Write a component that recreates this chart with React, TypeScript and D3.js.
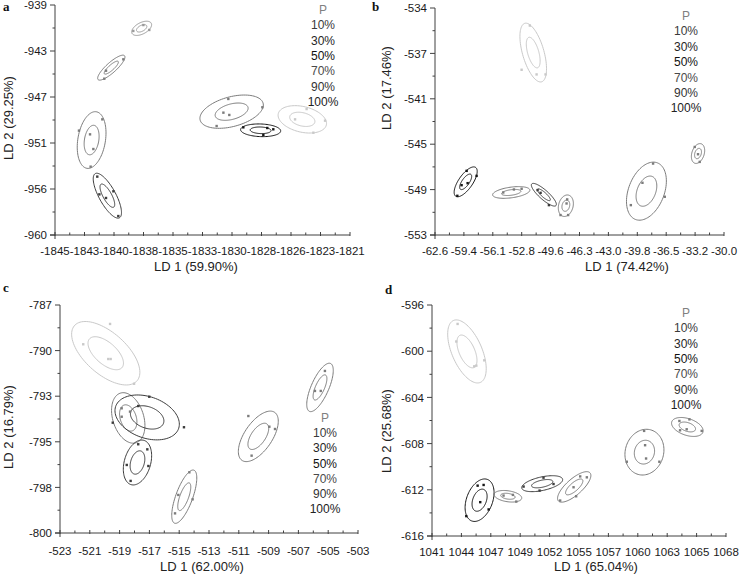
import React from 'react';
import * as d3 from 'd3';

// ---------- shared ----------
const legendLabels = ['P', '10%', '30%', '50%', '70%', '90%', '100%'];
const legendTones = ['#808080', '#3a3a3a', '#262626', '#111111', '#4a4a4a', '#333333', '#222222'];
const shadeColors: Record<string, string> = {
  light: '#c9c9c9',
  mid: '#9a9a9a',
  grey: '#7c7c7c',
  dark: '#3c3c3c',
  black: '#151515',
};

// ---------- panel a ----------
const aXDomain = [-1845, -1821];
const aYDomain = [-960, -939];
const aXLabels = ['-1845', '-1843', '-1840', '-1838', '-1835', '-1833', '-1830', '-1828', '-1826', '-1823', '-1821'];
const aYLabels = ['-960', '-956', '-951', '-947', '-943', '-939'];
const aGroups = [
  { cx: -1837.95, cy: -941.13, rx: 0.81, ry: 0.65, rho: 0.5 },
  { cx: -1840.42, cy: -944.72, rx: 1.11, ry: 1.14, rho: 0.85 },
  { cx: -1842.02, cy: -951.33, rx: 1.17, ry: 2.59, rho: 0.25 },
  { cx: -1840.74, cy: -956.41, rx: 1.15, ry: 2.05, rho: -0.75 },
  { cx: -1830.63, cy: -948.74, rx: 2.58, ry: 1.52, rho: 0.4 },
  { cx: -1828.27, cy: -950.44, rx: 1.63, ry: 0.58, rho: -0.1 },
  { cx: -1824.88, cy: -949.44, rx: 1.97, ry: 1.25, rho: -0.3 },
];
const aShades = ['mid', 'grey', 'grey', 'dark', 'grey', 'black', 'light'];
const aPoints: [number, number, number][] = [
  [0, -1838.63, -941.37], [0, -1837.81, -940.83], [0, -1837.33, -941.28],
  [1, -1839.44, -943.96], [1, -1840.99, -945.73], [1, -1840.85, -945.0],
  [2, -1843.05, -950.47], [2, -1842.15, -950.81], [2, -1841.88, -952.15], [2, -1842.1, -953.76], [2, -1841.15, -949.44],
  [3, -1841.56, -954.67], [3, -1840.25, -956.01], [3, -1840.85, -956.62], [3, -1841.39, -956.29], [3, -1839.85, -958.27],
  [4, -1830.9, -947.58], [4, -1828.13, -948.34], [4, -1831.3, -948.83], [4, -1830.82, -949.04], [4, -1831.85, -950.05],
  [5, -1829.68, -950.17], [5, -1828.05, -950.87], [5, -1827.24, -950.35], [5, -1827.73, -950.23],
  [6, -1825.47, -949.44], [6, -1823.03, -949.56], [6, -1823.98, -950.66], [6, -1824.53, -948.5],
];

// ---------- panel b ----------
const bXDomain = [-62.6, -30.0];
const bYDomain = [-553, -534];
const bXLabels = ['-62.6', '-59.4', '-56.1', '-52.8', '-49.6', '-46.3', '-43.0', '-39.8', '-36.5', '-33.2', '-30.0'];
const bYLabels = ['-553', '-549', '-545', '-541', '-537', '-534'];
const bGroups = [
  { cx: -51.52, cy: -537.73, rx: 1.5, ry: 2.46, rho: -0.55 },
  { cx: -59.14, cy: -548.55, rx: 1.3, ry: 1.25, rho: 0.7 },
  { cx: -54.0, cy: -549.44, rx: 2.1, ry: 0.49, rho: 0.4 },
  { cx: -50.32, cy: -549.63, rx: 1.41, ry: 0.95, rho: -0.85 },
  { cx: -47.84, cy: -550.55, rx: 0.85, ry: 0.9, rho: 0.2 },
  { cx: -38.75, cy: -549.33, rx: 2.25, ry: 2.43, rho: 0.35 },
  { cx: -32.93, cy: -546.18, rx: 0.75, ry: 0.83, rho: 0.3 },
];
const bShades = ['light', 'black', 'grey', 'dark', 'grey', 'grey', 'grey'];
const bPoints: [number, number, number][] = [
  [0, -51.9, -535.47], [0, -52.83, -539.17], [0, -51.14, -539.56], [0, -50.13, -539.56],
  [1, -59.03, -547.63], [1, -57.91, -548.05], [1, -58.92, -548.66], [1, -59.6, -548.83], [1, -60.08, -549.72],
  [2, -54.9, -549.44], [2, -53.7, -549.19], [2, -52.83, -549.13],
  [3, -51.03, -549.24], [3, -49.75, -550.5], [3, -50.69, -549.47],
  [4, -48.44, -551.33], [4, -47.58, -551.33], [4, -47.69, -550.02], [4, -47.76, -550.36],
  [5, -38.0, -547.02], [5, -39.2, -548.63], [5, -36.68, -549.8], [5, -40.51, -550.5],
  [6, -33.3, -545.63], [6, -32.93, -546.24], [6, -32.74, -546.88],
];

// ---------- panel c ----------
const cXDomain = [-523, -503];
const cYDomain = [-800, -787];
const cXLabels = ['-523', '-521', '-519', '-517', '-515', '-513', '-511', '-509', '-507', '-505', '-503'];
const cYLabels = ['-800', '-798', '-795', '-793', '-790', '-787'];
const cGroups = [
  { cx: -519.93, cy: -789.75, rx: 2.29, ry: 1.81, rho: -0.6 },
  { cx: -505.55, cy: -791.7, rx: 0.89, ry: 1.38, rho: 0.7 },
  { cx: -518.42, cy: -793.44, rx: 1.12, ry: 1.44, rho: -0.3 },
  { cx: -517.15, cy: -793.41, rx: 2.16, ry: 1.28, rho: -0.3 },
  { cx: -517.8, cy: -795.98, rx: 0.95, ry: 1.28, rho: 0.3 },
  { cx: -514.66, cy: -797.93, rx: 0.84, ry: 1.52, rho: 0.7 },
  { cx: -509.69, cy: -794.49, rx: 1.34, ry: 1.44, rho: 0.6 },
];
const cShades = ['light', 'grey', 'grey', 'dark', 'dark', 'grey', 'grey'];
const cPoints: [number, number, number][] = [
  [0, -519.64, -788.08], [0, -521.44, -789.24], [0, -519.76, -790.08], [0, -519.6, -790.08], [0, -518.03, -791.49],
  [1, -505.22, -790.76], [1, -505.89, -791.9], [1, -505.5, -791.9],
  [2, -518.86, -792.89], [2, -518.86, -793.37], [2, -518.3, -793.08],
  [3, -517.01, -792.23], [3, -517.75, -792.76], [3, -519.46, -793.71], [3, -514.68, -793.97],
  [4, -517.75, -794.94], [4, -517.14, -795.23], [4, -518.52, -796.12], [4, -517.07, -796.18], [4, -518.26, -797.03],
  [5, -514.32, -796.54], [5, -515.06, -797.83], [5, -514.1, -798.08], [5, -515.28, -798.88],
  [6, -510.36, -793.33], [6, -508.95, -793.94], [6, -508.57, -794.07], [6, -510.14, -795.59],
];

// ---------- panel d ----------
const dXDomain = [1041, 1068];
const dYDomain = [-616, -596];
const dXLabels = ['1041', '1044', '1047', '1049', '1052', '1055', '1057', '1060', '1063', '1065', '1068'];
const dYLabels = ['-616', '-612', '-608', '-604', '-600', '-596'];
const dGroups = [
  { cx: 1044.21, cy: -600.02, rx: 1.77, ry: 2.73, rho: -0.55 },
  { cx: 1045.37, cy: -612.9, rx: 1.33, ry: 1.84, rho: 0.35 },
  { cx: 1047.97, cy: -612.56, rx: 1.27, ry: 0.5, rho: -0.3 },
  { cx: 1051.12, cy: -611.47, rx: 1.88, ry: 0.69, rho: 0.5 },
  { cx: 1054.06, cy: -611.75, rx: 1.53, ry: 1.32, rho: 0.75 },
  { cx: 1060.51, cy: -608.74, rx: 1.79, ry: 1.98, rho: 0.1 },
  { cx: 1064.45, cy: -606.56, rx: 1.45, ry: 0.82, rho: -0.4 },
];
const dShades = ['light', 'black', 'grey', 'dark', 'grey', 'grey', 'grey'];
const dPoints: [number, number, number][] = [
  [0, 1043.35, -597.64], [0, 1043.23, -599.16], [0, 1044.88, -601.31], [0, 1045.07, -601.25], [0, 1045.8, -600.79],
  [1, 1045.19, -611.64], [1, 1045.74, -611.58], [1, 1045.43, -613.07], [1, 1044.15, -614.28], [1, 1046.2, -613.7],
  [2, 1047.57, -612.5], [2, 1048.43, -612.44], [2, 1048.74, -613.02],
  [3, 1051.24, -610.95], [3, 1052.16, -611.5], [3, 1050.88, -612.07], [3, 1049.41, -611.72],
  [4, 1054.61, -610.84], [4, 1055.22, -610.92], [4, 1054.0, -611.78], [4, 1054.24, -612.56], [4, 1052.77, -612.93],
  [5, 1060.48, -606.9], [5, 1060.57, -608.14], [5, 1060.66, -609.29], [5, 1058.89, -609.57], [5, 1061.88, -609.57],
  [6, 1063.72, -606.04], [6, 1064.64, -605.9], [6, 1064.39, -606.76], [6, 1063.78, -606.85], [6, 1065.77, -606.9],
];

// ---------- layout ----------
type Group = { cx: number; cy: number; rx: number; ry: number; rho: number };
type PanelSpec = {
  letter: string;
  xDomain: number[];
  yDomain: number[];
  xLabels: string[];
  yLabels: string[];
  groups: Group[];
  shades: string[];
  points: [number, number, number][];
  xTitle: string;
  yTitle: string;
  frame: { x0: number; x1: number; yTop: number; yBot: number };
  letterPos: [number, number];
  xTitlePos: [number, number];
  yTitlePos: [number, number];
  xLabelY: number;
  legend: { x: number; y: number; step: number };
};

const panels: PanelSpec[] = [
  {
    letter: 'a', xDomain: aXDomain, yDomain: aYDomain, xLabels: aXLabels, yLabels: aYLabels,
    groups: aGroups, shades: aShades, points: aPoints,
    xTitle: 'LD 1 (59.90%)', yTitle: 'LD 2 (29.25%)',
    frame: { x0: 55, x1: 350, yTop: 5, yBot: 235 },
    letterPos: [3, 11], xTitlePos: [196, 271], yTitlePos: [13, 118], xLabelY: 255,
    legend: { x: 323, y: 14, step: 15.3 },
  },
  {
    letter: 'b', xDomain: bXDomain, yDomain: bYDomain, xLabels: bXLabels, yLabels: bYLabels,
    groups: bGroups, shades: bShades, points: bPoints,
    xTitle: 'LD 1 (74.42%)', yTitle: 'LD 2 (17.46%)',
    frame: { x0: 435, x1: 724, yTop: 8, yBot: 235 },
    letterPos: [372, 11], xTitlePos: [627, 271], yTitlePos: [391, 88], xLabelY: 255,
    legend: { x: 686, y: 20, step: 15.4 },
  },
  {
    letter: 'c', xDomain: cXDomain, yDomain: cYDomain, xLabels: cXLabels, yLabels: cYLabels,
    groups: cGroups, shades: cShades, points: cPoints,
    xTitle: 'LD 1 (62.00%)', yTitle: 'LD 2 (16.79%)',
    frame: { x0: 60, x1: 358, yTop: 305, yBot: 533 },
    letterPos: [3, 292], xTitlePos: [202, 571], yTitlePos: [13, 427], xLabelY: 555,
    legend: { x: 325, y: 422, step: 15.2 },
  },
  {
    letter: 'd', xDomain: dXDomain, yDomain: dYDomain, xLabels: dXLabels, yLabels: dYLabels,
    groups: dGroups, shades: dShades, points: dPoints,
    xTitle: 'LD 1 (65.04%)', yTitle: 'LD 2 (25.68%)',
    frame: { x0: 432, x1: 726, yTop: 305, yBot: 536 },
    letterPos: [385, 294], xTitlePos: [596, 571], yTitlePos: [391, 431], xLabelY: 556,
    legend: { x: 686, y: 317, step: 15.3 },
  },
];

const SANS = '"Liberation Sans", Arial, Helvetica, sans-serif';
const SERIF = '"Liberation Serif", "Times New Roman", serif';
const AXIS = '#404040';

function ellipsePath(g: Group, k: number, xs: d3.ScaleLinear<number, number>, ys: d3.ScaleLinear<number, number>) {
  const s = Math.sqrt(1 - g.rho * g.rho);
  const pts: [number, number][] = d3.range(0, 96).map((i) => {
    const t = (i / 96) * 2 * Math.PI;
    return [
      xs(g.cx + k * g.rx * Math.cos(t)),
      ys(g.cy + k * g.ry * (g.rho * Math.cos(t) + s * Math.sin(t))),
    ];
  });
  return d3.line().curve(d3.curveLinearClosed)(pts) || '';
}

function Panel({ p }: { p: PanelSpec }) {
  const { x0, x1, yTop, yBot } = p.frame;
  const xs = d3.scaleLinear().domain(p.xDomain).range([x0, x1]);
  const ys = d3.scaleLinear().domain(p.yDomain).range([yBot, yTop]);
  const nx = p.xLabels.length - 1;
  const ny = p.yLabels.length - 1;
  const xMajor = d3.range(nx + 1).map((i) => p.xDomain[0] + (i * (p.xDomain[1] - p.xDomain[0])) / nx);
  const xMinor = d3.range(nx).map((i) => p.xDomain[0] + ((i + 0.5) * (p.xDomain[1] - p.xDomain[0])) / nx);
  const yMajor = d3.range(ny + 1).map((i) => p.yDomain[0] + (i * (p.yDomain[1] - p.yDomain[0])) / ny);
  const yMinor = d3.range(ny).map((i) => p.yDomain[0] + ((i + 0.5) * (p.yDomain[1] - p.yDomain[0])) / ny);

  return (
    <g>
      <text x={p.letterPos[0]} y={p.letterPos[1]} fontFamily={SERIF} fontWeight="bold" fontSize={13} fill="#111">
        {p.letter}
      </text>
      {/* ellipses */}
      {p.groups.map((g, i) => (
        <g key={'g' + i} stroke={shadeColors[p.shades[i]]} fill="none" strokeWidth={1}>
          <path d={ellipsePath(g, 1, xs, ys)} />
          <path d={ellipsePath(g, 0.52, xs, ys)} />
        </g>
      ))}
      {p.points.map(([gi, x, y], i) => (
        <rect
          key={'p' + i}
          x={xs(x) - 1.2}
          y={ys(y) - 1.2}
          width={2.4}
          height={2.4}
          fill={shadeColors[p.shades[gi]]}
        />
      ))}
      {/* axes */}
      <g stroke={AXIS} strokeWidth={1} fill="none">
        <line x1={x0} x2={x0} y1={yTop} y2={yBot + 4} />
        <line x1={x0 - 5} x2={x1} y1={yBot} y2={yBot} />
        {yMajor.map((v, i) => (
          <line key={'ym' + i} x1={x0 - 5} x2={x0} y1={ys(v)} y2={ys(v)} />
        ))}
        {yMinor.map((v, i) => (
          <line key={'yn' + i} x1={x0 - 2.5} x2={x0} y1={ys(v)} y2={ys(v)} />
        ))}
        {xMajor.map((v, i) => (
          <line key={'xm' + i} x1={xs(v)} x2={xs(v)} y1={yBot - 3} y2={yBot + 1} />
        ))}
        {xMinor.map((v, i) => (
          <line key={'xn' + i} x1={xs(v)} x2={xs(v)} y1={yBot - 2.5} y2={yBot} />
        ))}
      </g>
      <g fontFamily={SANS} fontSize={11.5} fill="#1a1a1a">
        {yMajor.map((v, i) => (
          <text key={'yl' + i} x={x0 - 8} y={ys(v)} dy="0.36em" textAnchor="end">
            {p.yLabels[i]}
          </text>
        ))}
        {xMajor.map((v, i) => (
          <text key={'xl' + i} x={xs(v)} y={p.xLabelY} textAnchor="middle">
            {p.xLabels[i]}
          </text>
        ))}
      </g>
      <text x={p.xTitlePos[0]} y={p.xTitlePos[1]} textAnchor="middle" fontFamily={SANS} fontSize={13} fill="#222">
        {p.xTitle}
      </text>
      <text
        transform={`translate(${p.yTitlePos[0]},${p.yTitlePos[1]}) rotate(-90)`}
        textAnchor="middle"
        fontFamily={SANS}
        fontSize={13}
        fill="#222"
      >
        {p.yTitle}
      </text>
      <g fontFamily={SANS} fontSize={12} textAnchor="middle">
        {legendLabels.map((l, i) => (
          <text key={'lg' + i} x={p.legend.x} y={p.legend.y + i * p.legend.step} fill={legendTones[i]}>
            {l}
          </text>
        ))}
      </g>
    </g>
  );
}

export default function App() {
  return (
    <svg
      width={739}
      height={575}
      viewBox="0 0 739 575"
      style={{ position: 'absolute', left: 0, top: 0, background: '#fff' }}
    >
      <rect width={739} height={575} fill="#fff" />
      {panels.map((p) => (
        <Panel key={p.letter} p={p} />
      ))}
    </svg>
  );
}
